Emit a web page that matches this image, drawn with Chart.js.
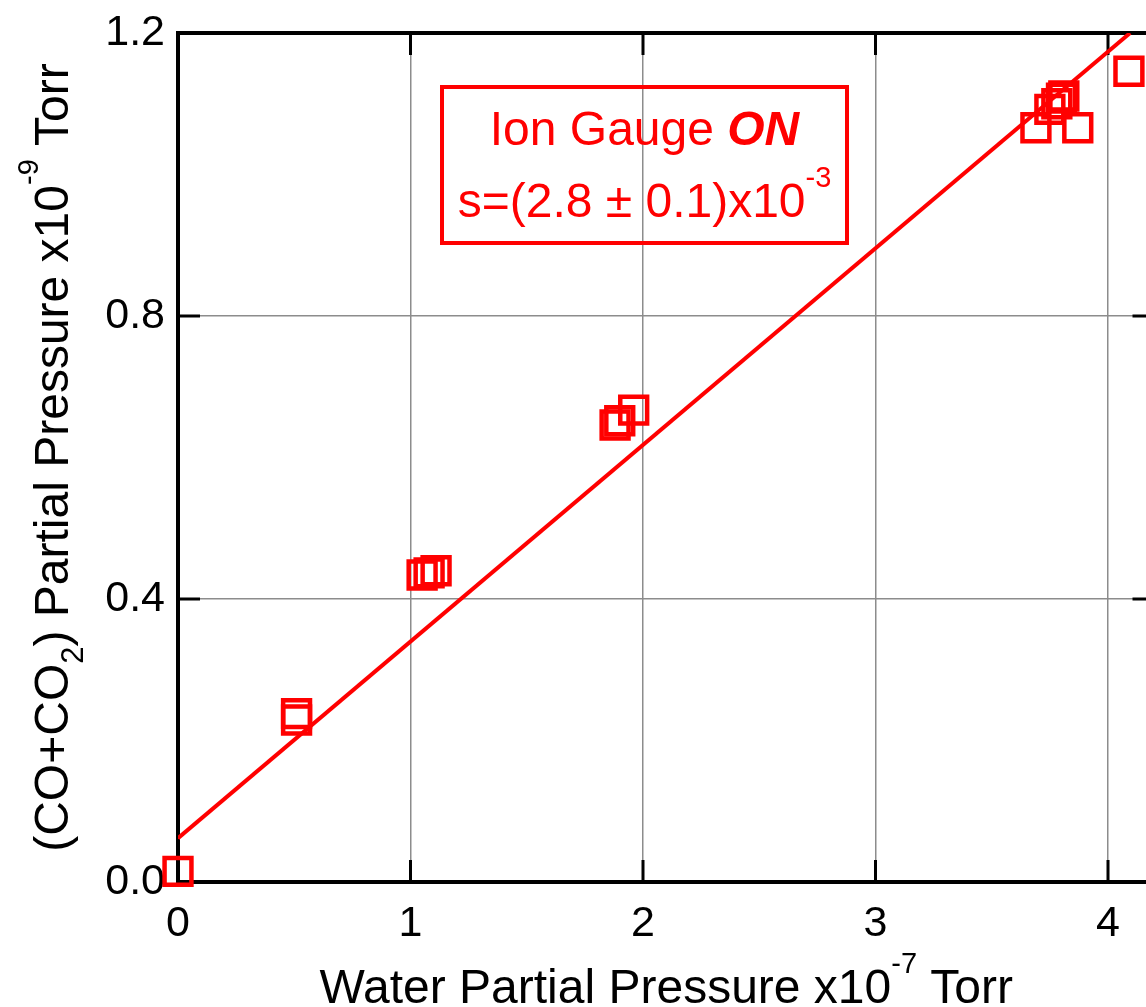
<!DOCTYPE html>
<html>
<head>
<meta charset="utf-8">
<script src="https://cdn.jsdelivr.net/npm/chart.js@4"></script>
<style>
  body { margin: 0; overflow: hidden; background: #fff; }
  #wrap { width: 1160px; height: 1007px; }
</style>
</head>
<body>
<div id="wrap"><canvas id="gasChart" width="1160" height="1007"></canvas></div>
<script>
// water partial pressure (x1e-7 Torr) vs CO+CO2 partial pressure (x1e-9 Torr)
var waterX = [0.0, 0.51, 0.51, 1.05, 1.08, 1.11, 1.88, 1.90, 1.96, 3.69, 3.75, 3.78, 3.80, 3.81, 3.87, 4.09];
var cocoY  = [0.015, 0.238, 0.229, 0.434, 0.437, 0.440, 0.646, 0.652, 0.667, 1.066, 1.092, 1.100, 1.108, 1.111, 1.066, 1.146];

// linear fit
var fitX = [0.0, 4.095];
var fitY = [0.062, 1.2];

var xTicks = [0, 1, 2, 3, 4];
var yTicks = [0.0, 0.4, 0.8, 1.2];

var RED = '#ff0000';
var FONT = '"Liberation Sans", Arial, sans-serif';

function toPoints(xs, ys) {
    return xs.map(function (x, i) { return { x: x, y: ys[i] }; });
}

// draws a row of text pieces (for super/subscripts), aligned on x
function drawRuns(ctx, parts, size, x, y, align) {
    var total = 0;
    parts.forEach(function (p) {
        ctx.font = (p.style || '') + ' ' + Math.round(size * (p.scale || 1)) + 'px ' + FONT;
        p.w = ctx.measureText(p.text).width;
        total += p.w;
    });
    var cx = align === 'center' ? x - total / 2 : x;
    ctx.textAlign = 'left';
    ctx.textBaseline = 'alphabetic';
    parts.forEach(function (p) {
        ctx.font = (p.style || '') + ' ' + Math.round(size * (p.scale || 1)) + 'px ' + FONT;
        ctx.fillText(p.text, cx, y + (p.shift || 0) * size);
        cx += p.w;
    });
}

var framePlugin = {
    id: 'frame',
    beforeDatasetsDraw: function (chart) {
        var ctx = chart.ctx, a = chart.chartArea;
        var xs = chart.scales.x, ys = chart.scales.y;
        ctx.save();
        ctx.strokeStyle = '#000';
        // inner tick marks
        ctx.lineWidth = 3;
        xTicks.forEach(function (v) {
            var px = xs.getPixelForValue(v);
            ctx.beginPath();
            ctx.moveTo(px, a.bottom); ctx.lineTo(px, a.bottom - 22);
            ctx.moveTo(px, a.top); ctx.lineTo(px, a.top + 22);
            ctx.stroke();
        });
        yTicks.forEach(function (v) {
            var py = ys.getPixelForValue(v);
            ctx.beginPath();
            ctx.moveTo(a.left, py); ctx.lineTo(a.left + 22, py);
            ctx.moveTo(a.right, py); ctx.lineTo(a.right - 22, py);
            ctx.stroke();
        });
        ctx.lineWidth = 4;
        ctx.strokeRect(a.left, a.top, a.right - a.left, a.bottom - a.top);
        ctx.restore();
    },
    afterDraw: function (chart) {
        var ctx = chart.ctx, a = chart.chartArea;
        ctx.save();
        ctx.fillStyle = '#000';
        var midX = (a.left + a.right) / 2;
        drawRuns(ctx, [
            { text: 'Water Partial Pressure x10' },
            { text: '-7', scale: 0.6, shift: -0.62 },
            { text: ' Torr' }
        ], 48, midX, 1003, 'center');

        ctx.save();
        ctx.translate(68, (a.top + a.bottom) / 2);
        ctx.rotate(-Math.PI / 2);
        drawRuns(ctx, [
            { text: '(CO+CO' },
            { text: '2', scale: 0.65, shift: 0.32 },
            { text: ') Partial Pressure x10' },
            { text: '-9', scale: 0.6, shift: -0.62 },
            { text: ' Torr' }
        ], 48, 0, 0, 'center');
        ctx.restore();

        // annotation box
        var bx = a.left + 264, by = a.top + 54, bw = 405, bh = 156;
        ctx.strokeStyle = RED;
        ctx.lineWidth = 4;
        ctx.strokeRect(bx, by, bw, bh);
        ctx.fillStyle = RED;
        drawRuns(ctx, [
            { text: 'Ion Gauge ' },
            { text: 'ON', style: 'italic bold' }
        ], 48, bx + bw / 2, by + 58, 'center');
        drawRuns(ctx, [
            { text: 's=(2.8 \u00b1 0.1)x10' },
            { text: '-3', scale: 0.6, shift: -0.62 }
        ], 48, bx + bw / 2, by + 130, 'center');
        ctx.restore();
    }
};

var ctx = document.getElementById('gasChart').getContext('2d');

var myChart = new Chart(ctx, {
    type: 'scatter',
    data: {
        datasets: [{
            label: 'Ion Gauge ON',
            data: toPoints(waterX, cocoY),
            pointStyle: 'rect',
            pointRadius: 19,
            pointHoverRadius: 19,
            pointBorderWidth: 4.5,
            pointBackgroundColor: 'rgba(0,0,0,0)',
            borderColor: RED,
            clip: false,
            order: 1
        }, {
            label: 'fit',
            data: toPoints(fitX, fitY),
            showLine: true,
            pointRadius: 0,
            borderColor: RED,
            borderWidth: 4,
            order: 2
        }]
    },
    options: {
        responsive: false,
        animation: false,
        events: [],
        layout: {
            autoPadding: false,
            padding: { left: 0, top: 33, right: 5.5, bottom: 0 }
        },
        plugins: {
            legend: { display: false },
            tooltip: { enabled: false }
        },
        scales: {
            x: {
                type: 'linear',
                min: 0,
                max: 4.2,
                afterFit: function (s) {
                    s.height = 125;
                    s.paddingLeft = 0;
                    s.paddingRight = 0;
                },
                afterBuildTicks: function (s) { s.ticks = xTicks.map(function (v) { return { value: v }; }); },
                border: { display: false },
                grid: { color: '#8c8c8c', lineWidth: 1.5, drawTicks: false },
                ticks: {
                    padding: 16,
                    color: '#000',
                    font: { family: FONT, size: 43 },
                    callback: function (v) { return String(v); }
                }
            },
            y: {
                type: 'linear',
                min: 0,
                max: 1.2,
                afterFit: function (s) {
                    s.width = 178;
                    s.paddingTop = 0;
                    s.paddingBottom = 0;
                },
                afterBuildTicks: function (s) { s.ticks = yTicks.map(function (v) { return { value: v }; }); },
                border: { display: false },
                grid: { color: '#8c8c8c', lineWidth: 1.5, drawTicks: false },
                ticks: {
                    padding: 13,
                    color: '#000',
                    font: { family: FONT, size: 43 },
                    callback: function (v) { return Number(v).toFixed(1); }
                }
            }
        }
    },
    plugins: [framePlugin]
});
</script>
</body>
</html>
